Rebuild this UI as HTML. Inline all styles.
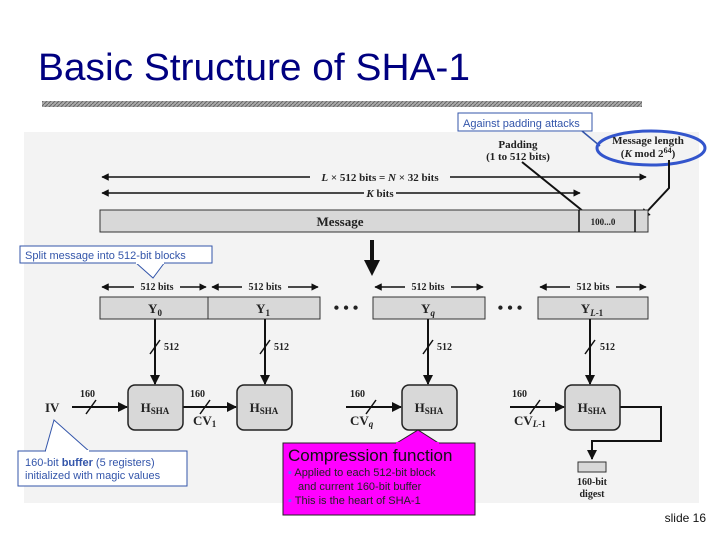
<!DOCTYPE html>
<html><head><meta charset="utf-8"><style>
body{margin:0;background:#fff}
svg{display:block}
.t{font-family:"Liberation Serif",serif;font-weight:bold;fill:#222}
.s{font-family:"Liberation Sans",sans-serif}
</style></head><body>
<svg width="720" height="540" viewBox="0 0 720 540" xmlns="http://www.w3.org/2000/svg">
<defs>
<marker id="a" viewBox="0 0 10 10" refX="9" refY="5" markerWidth="5" markerHeight="5" orient="auto-start-reverse"><path d="M0,0L10,5L0,10z" fill="#111"/></marker>
<pattern id="h" width="4" height="4" patternUnits="userSpaceOnUse"><rect width="4" height="4" fill="#aaa"/><path d="M0,4L4,0" stroke="#666" stroke-width="1"/></pattern>
</defs>
<text x="38" y="80" font-family="Liberation Sans,sans-serif" font-size="38" textLength="432" lengthAdjust="spacingAndGlyphs" fill="#000080">Basic Structure of SHA-1</text>
<rect x="42" y="101" width="600" height="6" fill="url(#h)"/>
<rect x="24" y="132" width="675" height="371" fill="#f3f3f3"/>

<rect x="458" y="113" width="134" height="18" fill="#fff" stroke="#3355aa"/>
<text x="463" y="127" class="s" font-size="11" fill="#3355aa">Against padding attacks</text>
<path d="M582,131L600,146" stroke="#3355aa" stroke-width="1.5"/>
<ellipse cx="651" cy="148" rx="54" ry="17" fill="none" stroke="#3355cc" stroke-width="3"/>
<text x="648" y="144" class="t" font-size="11" text-anchor="middle">Message length</text>
<text x="648" y="157" class="t" font-size="11" text-anchor="middle">(<tspan font-style="italic">K</tspan> mod 2<tspan dy="-4" font-size="8">64</tspan><tspan dy="4">)</tspan></text>
<text x="518" y="148" class="t" font-size="11" text-anchor="middle">Padding</text>
<text x="518" y="160" class="t" font-size="11" text-anchor="middle">(1 to 512 bits)</text>

<g stroke="#111" stroke-width="1.5" fill="none">
<path d="M102,177H646" marker-start="url(#a)" marker-end="url(#a)"/>
<path d="M102,193H580" marker-start="url(#a)" marker-end="url(#a)"/>
<path d="M522,162L594,220" stroke-width="2" marker-end="url(#a)"/>
<path d="M669,160V188L641,218" stroke-width="2" marker-end="url(#a)"/>
</g>
<rect x="310" y="170" width="140" height="14" fill="#f3f3f3"/>
<text x="380" y="181" class="t" font-size="11" text-anchor="middle"><tspan font-style="italic">L</tspan> × 512 bits = <tspan font-style="italic">N</tspan> × 32 bits</text>
<rect x="364" y="186" width="32" height="14" fill="#f3f3f3"/>
<text x="380" y="197" class="t" font-size="11" text-anchor="middle"><tspan font-style="italic">K</tspan> bits</text>

<rect x="100" y="210" width="548" height="22" fill="#d8d8d8" stroke="#333"/>
<path d="M579,210V232M635,210V232" stroke="#111" stroke-width="1.5"/>
<text x="340" y="226" class="t" font-size="13" text-anchor="middle">Message</text>
<text x="603" y="225" class="t" font-size="9" text-anchor="middle">100...0</text>
<path d="M372,240V262" stroke="#111" stroke-width="4"/>
<path d="M364,260L380,260L372,276z" fill="#111"/>

<path d="M135,262L153,278L165,262" fill="#fff" stroke="#3355aa"/>
<rect x="20" y="246" width="192" height="17" fill="#fff" stroke="#3355aa"/>
<rect x="136" y="261" width="28" height="3" fill="#fff"/>
<text x="25" y="259" class="s" font-size="11" fill="#3355aa">Split message into 512-bit blocks</text>

<g stroke="#111" stroke-width="1.5" fill="none">
<path d="M102,287H206" marker-start="url(#a)" marker-end="url(#a)"/>
<path d="M212,287H318" marker-start="url(#a)" marker-end="url(#a)"/>
<path d="M375,287H483" marker-start="url(#a)" marker-end="url(#a)"/>
<path d="M540,287H646" marker-start="url(#a)" marker-end="url(#a)"/>
</g>
<g fill="#f3f3f3"><rect x="134" y="281" width="46" height="11"/><rect x="242" y="281" width="46" height="11"/><rect x="405" y="281" width="46" height="11"/><rect x="570" y="281" width="46" height="11"/></g>
<g class="t" font-size="10" text-anchor="middle"><text x="157" y="290">512 bits</text><text x="265" y="290">512 bits</text><text x="428" y="290">512 bits</text><text x="593" y="290">512 bits</text></g>

<g fill="#d8d8d8" stroke="#333"><rect x="100" y="297" width="108" height="22"/><rect x="208" y="297" width="112" height="22"/><rect x="373" y="297" width="112" height="22"/><rect x="538" y="297" width="110" height="22"/></g>
<g class="t" font-size="13" text-anchor="middle">
<text x="155" y="313">Y<tspan font-size="9" dy="3">0</tspan></text>
<text x="263" y="313">Y<tspan font-size="9" dy="3">1</tspan></text>
<text x="428" y="313">Y<tspan font-size="9" dy="3" font-style="italic">q</tspan></text>
<text x="592" y="313">Y<tspan font-size="9" dy="3"><tspan font-style="italic">L</tspan>-1</tspan></text>
<text x="346" y="313" font-size="16">• • •</text>
<text x="510" y="313" font-size="16">• • •</text>
</g>

<g stroke="#111" stroke-width="2" fill="none">
<path d="M155,319V384" marker-end="url(#a)"/><path d="M265,319V384" marker-end="url(#a)"/>
<path d="M428,319V384" marker-end="url(#a)"/><path d="M590,319V384" marker-end="url(#a)"/>
<path d="M150,354L160,340M260,354L270,340M423,354L433,340M585,354L595,340" stroke-width="1.5"/>
<path d="M72,407H127" marker-end="url(#a)"/><path d="M183,407H236" marker-end="url(#a)"/>
<path d="M346,407H401" marker-end="url(#a)"/><path d="M510,407H564" marker-end="url(#a)"/>
<path d="M86,414L96,400M200,414L210,400M366,414L376,400M530,414L540,400" stroke-width="1.5"/>
<path d="M620,407H661V441H592V459" marker-end="url(#a)"/>
</g>
<g class="t" font-size="10"><text x="164" y="350">512</text><text x="274" y="350">512</text><text x="437" y="350">512</text><text x="600" y="350">512</text>
<text x="80" y="397">160</text><text x="190" y="397">160</text><text x="350" y="397">160</text><text x="512" y="397">160</text></g>

<g fill="#d8d8d8" stroke="#222" stroke-width="1.5">
<rect x="128" y="385" width="55" height="45" rx="7"/><rect x="237" y="385" width="55" height="45" rx="7"/>
<rect x="402" y="385" width="55" height="45" rx="7"/><rect x="565" y="385" width="55" height="45" rx="7"/>
</g>
<g class="t" font-size="13" text-anchor="middle">
<text x="155" y="412">H<tspan font-size="9" dy="2">SHA</tspan></text>
<text x="264" y="412">H<tspan font-size="9" dy="2">SHA</tspan></text>
<text x="429" y="412">H<tspan font-size="9" dy="2">SHA</tspan></text>
<text x="592" y="412">H<tspan font-size="9" dy="2">SHA</tspan></text>
</g>
<g class="t" font-size="13">
<text x="45" y="412">IV</text>
<text x="193" y="425">CV<tspan font-size="9" dy="2">1</tspan></text>
<text x="350" y="425">CV<tspan font-size="9" dy="2" font-style="italic">q</tspan></text>
<text x="514" y="425">CV<tspan font-size="9" dy="2"><tspan font-style="italic">L</tspan>-1</tspan></text>
</g>
<rect x="578" y="462" width="28" height="10" fill="#d8d8d8" stroke="#333"/>
<text x="592" y="485" class="t" font-size="10" text-anchor="middle">160-bit</text>
<text x="592" y="497" class="t" font-size="10" text-anchor="middle">digest</text>

<path d="M45,452L54,420L90,452" fill="#fff" stroke="#3355aa"/>
<rect x="18" y="451" width="169" height="35" fill="#fff" stroke="#3355aa"/>
<rect x="46" y="450" width="43" height="3" fill="#fff"/>
<text x="25" y="466" class="s" font-size="11" fill="#3355aa">160-bit <tspan font-weight="bold">buffer</tspan> (5 registers)</text>
<text x="25" y="479" class="s" font-size="11" fill="#3355aa">initialized with magic values</text>

<path d="M395,444L418,430L440,444z" fill="#f0f" stroke="#222"/>
<rect x="283" y="443" width="192" height="72" fill="#f0f" stroke="#222"/>
<rect x="396" y="442" width="43" height="3" fill="#f0f"/>
<text x="288" y="461" class="s" font-size="17" fill="#111">Compression function</text>
<text x="288" y="476" class="s" font-size="11" fill="#222"><tspan fill="#66f">▪</tspan> Applied to each 512-bit block</text>
<text x="298" y="490" class="s" font-size="11" fill="#222">and current 160-bit buffer</text>
<text x="288" y="504" class="s" font-size="11" fill="#222"><tspan fill="#66f">▪</tspan> This is the heart of SHA-1</text>

<text x="706" y="522" class="s" font-size="12" fill="#111" text-anchor="end">slide 16</text>
</svg>
</body></html>
